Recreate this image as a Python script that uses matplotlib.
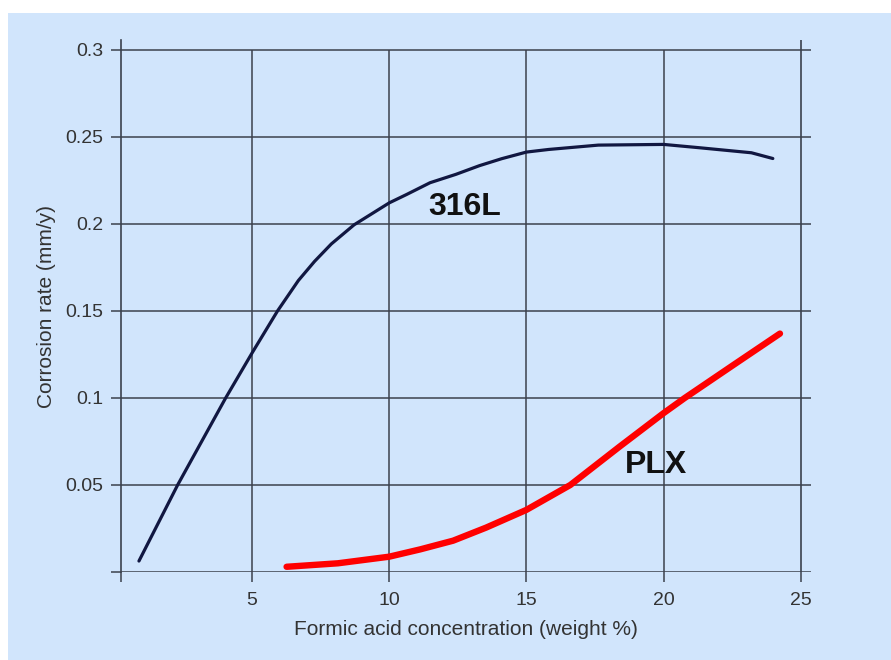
import matplotlib
matplotlib.use("Agg")
import matplotlib.pyplot as plt
from matplotlib.patches import Rectangle

# --- Data ---
conc_316l = [0.88, 2.29, 4.04, 5.0, 5.93, 6.69, 7.28, 7.89, 8.72, 10.0, 10.63,
             11.49, 12.43, 13.29, 14.1, 15.0, 15.81, 17.62, 20.0, 21.3, 23.2, 23.98]
rate_316l = [0.0063, 0.05, 0.10, 0.1258, 0.15, 0.1675, 0.1785, 0.1885, 0.1995, 0.2121, 0.2169,
             0.2237, 0.2285, 0.2335, 0.2375, 0.2413, 0.2428, 0.2453, 0.2457, 0.2438, 0.2409, 0.2376]

conc_plx = [6.26, 8.13, 10.0, 11.13, 12.33, 13.53, 15.0, 16.6, 18.4, 20.0, 20.77, 22.5, 24.24]
rate_plx = [0.003, 0.005, 0.0088, 0.013, 0.018, 0.0255, 0.0357, 0.05, 0.0721, 0.0913, 0.10, 0.1185, 0.137]

x_ticks = [5, 10, 15, 20, 25]
y_ticks = [0.05, 0.1, 0.15, 0.2, 0.25, 0.3]
y_tick_labels = ["0.05", "0.1", "0.15", "0.2", "0.25", "0.3"]

# --- Style ---
BG = "#d1e5fc"
GRID = "#3b414d"
TXT = "#333333"
plt.rcParams["font.family"] = ["Liberation Sans", "DejaVu Sans"]

fig = plt.figure(figsize=(8.91, 6.60), dpi=100)
fig.patches.append(Rectangle((8 / 891, 0), 1, 1 - 13 / 660, transform=fig.transFigure,
                             facecolor=BG, edgecolor="none", zorder=-10))

x_min, x_max = 0.215, 25.36
y_min, y_max = 0.0, 0.3057
ax = fig.add_axes([120.7 / 891, 88 / 660, (810.7 - 120.7) / 891, (620 - 88) / 660])
ax.set_facecolor("none")
ax.set_xlim(x_min, x_max)
ax.set_ylim(y_min, y_max)

for side in ["top", "right", "bottom"]:
    ax.spines[side].set_visible(False)
ax.spines["left"].set_color(GRID)
ax.spines["left"].set_linewidth(1.2)

# grid lines drawn by hand: horizontal run full width, verticals stop at 0.3
for yv in [0.0] + y_ticks:
    ax.axhline(yv, color=GRID, lw=1.1, zorder=1)
ax.vlines(x_ticks[:-1], 0, 0.3, color=GRID, lw=1.1, zorder=1)
ax.vlines(x_ticks[-1], 0, y_max, color=GRID, lw=1.2, zorder=1)

ax.set_xticks([x_min] + x_ticks)
ax.set_xticklabels([""] + [str(v) for v in x_ticks])
ax.set_yticks([0.0] + y_ticks)
ax.set_yticklabels([""] + y_tick_labels)
ax.tick_params(axis="both", direction="out", length=7.5, width=1.1, color=GRID,
               labelcolor=TXT, labelsize=14)
ax.tick_params(axis="y", pad=5)
ax.tick_params(axis="x", pad=7)

ax.plot(conc_316l, rate_316l, color="#111741", lw=2.3, solid_capstyle="round",
        solid_joinstyle="round", zorder=3)
ax.plot(conc_plx, rate_plx, color="#ff0000", lw=4.6, solid_capstyle="round",
        solid_joinstyle="round", zorder=3)

ax.text(12.75, 0.21, "316L", fontsize=23, fontweight="bold", ha="center", va="center",
        color="#111111", zorder=4)
ax.text(19.71, 0.0615, "PLX", fontsize=23, fontweight="bold", ha="center", va="center",
        color="#111111", zorder=4)

ax.set_xlabel("Formic acid concentration (weight %)", fontsize=15, color=TXT, labelpad=8)
ax.set_ylabel("Corrosion rate (mm/y)", fontsize=15, color=TXT, labelpad=7)

fig.savefig("out.png", dpi=100)
